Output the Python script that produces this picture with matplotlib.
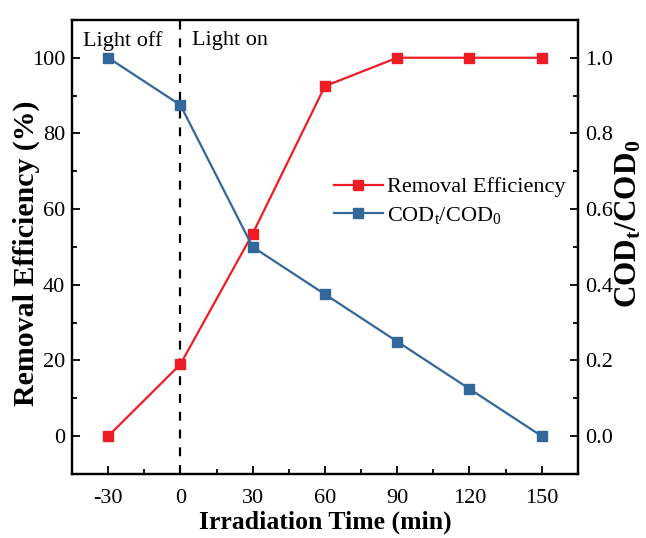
import matplotlib
matplotlib.use("Agg")
import matplotlib.pyplot as plt
from matplotlib.ticker import MultipleLocator

# Data
time_min = [-30, 0, 30, 60, 90, 120, 150]
removal_eff = [0, 19, 53.5, 92.5, 100, 100, 100]
cod_ratio = [1.0, 0.875, 0.5, 0.375, 0.25, 0.125, 0.0]
x_ticks = [-30, 0, 30, 60, 90, 120, 150]
cod_ticks = [0.0, 0.2, 0.4, 0.6, 0.8, 1.0]
cod_tick_labels = ["0.0", "0.2", "0.4", "0.6", "0.8", "1.0"]

plt.rcParams["font.family"] = ["Liberation Serif", "DejaVu Serif"]
plt.rcParams["mathtext.fontset"] = "custom"
plt.rcParams["mathtext.rm"] = "Liberation Serif"
plt.rcParams["mathtext.it"] = "Liberation Serif:italic"
plt.rcParams["mathtext.bf"] = "Liberation Serif:bold"
plt.rcParams["axes.unicode_minus"] = False

red = "#EE1C25"
blue = "#336699"

fig = plt.figure(figsize=(6.46, 5.38), dpi=100)
ax = fig.add_axes([0.1115, 0.119, 0.783, 0.844])
ax2 = ax.twinx()

l1, = ax.plot(time_min, removal_eff, color=red, lw=1.6, marker="s", ms=7,
              label="Removal Efficiency", zorder=3)
l2, = ax2.plot(time_min, cod_ratio, color=blue, lw=1.6, marker="s", ms=7,
               label=r"COD$_\mathrm{t}$/COD$_0$", zorder=3)

# light switched on at t = 0
ax.axvline(0, color="black", lw=1.6, ls=(0, (4, 4)), zorder=2)

ax.set_xlim(-45, 165)
ax.set_ylim(-10, 110)
ax2.set_ylim(-0.1, 1.1)

ax.set_xticks(x_ticks)
ax.xaxis.set_minor_locator(MultipleLocator(15))
ax.yaxis.set_major_locator(MultipleLocator(20))
ax.yaxis.set_minor_locator(MultipleLocator(10))
ax2.set_yticks(cod_ticks)
ax2.set_yticklabels(cod_tick_labels)
ax2.yaxis.set_minor_locator(MultipleLocator(0.1))

for a in (ax, ax2):
    a.tick_params(which="both", direction="in", labelsize=16, width=1.3)
    a.tick_params(which="major", length=6, pad=5)
    a.tick_params(which="minor", length=3.5)
    for s in a.spines.values():
        s.set_linewidth(1.6)
ax.tick_params(axis="x", which="major", pad=11)
ax.tick_params(axis="y", which="both", right=False)
ax.tick_params(axis="x", which="both", top=False)

ax.set_xlabel("Irradiation Time (min)", fontsize=18.5, fontweight="bold", labelpad=2)
ax.set_ylabel("Removal Efficiency (%)", fontsize=21.5, fontweight="bold")
ax.yaxis.set_label_coords(-0.063, 0.487)
ax2.set_ylabel(r"$\mathbf{COD_t/COD_0}$", fontsize=22.5)
ax2.yaxis.set_label_coords(1.072, 0.55)

ax.text(-24, 104.5, "Light off", fontsize=16, ha="center", va="center")
ax.text(20.5, 104.5, "Light on", fontsize=16, ha="center", va="center")

ax.legend(handles=[l1, l2], loc="upper left", bbox_to_anchor=(0.5, 0.674),
          frameon=False, fontsize=16, handlelength=2.2, handletextpad=0.2,
          labelspacing=0.35, borderaxespad=0)

fig.savefig("out.png", dpi=100)
